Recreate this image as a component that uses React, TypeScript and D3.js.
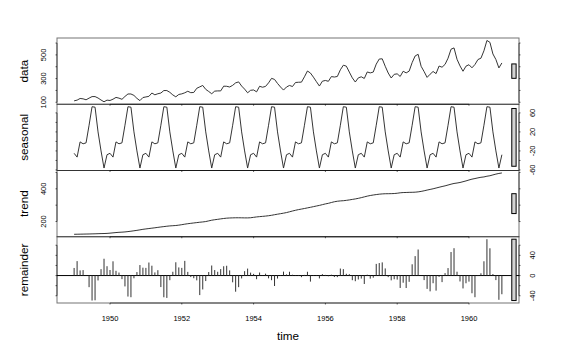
import React from "react";
import * as d3 from "d3";

// AirPassengers (monthly, 1949-1960)
const passengers = [
  112, 118, 132, 129, 121, 135, 148, 148, 136, 119, 104, 118,
  115, 126, 141, 135, 125, 149, 170, 170, 158, 133, 114, 140,
  145, 150, 178, 163, 172, 178, 199, 199, 184, 162, 146, 166,
  171, 180, 193, 181, 183, 218, 230, 242, 209, 191, 172, 194,
  196, 196, 236, 235, 229, 243, 264, 272, 237, 211, 180, 201,
  204, 188, 235, 227, 234, 264, 302, 293, 259, 229, 203, 229,
  242, 233, 267, 269, 270, 315, 364, 347, 312, 274, 237, 278,
  284, 277, 317, 313, 318, 374, 413, 405, 355, 306, 271, 306,
  315, 301, 356, 348, 355, 422, 465, 467, 404, 347, 305, 336,
  340, 318, 362, 348, 363, 435, 491, 505, 404, 359, 310, 337,
  360, 342, 406, 396, 420, 472, 548, 559, 463, 407, 362, 405,
  417, 391, 419, 461, 472, 535, 622, 606, 508, 461, 390, 432,
];

const seasonal = [
  -25, -33, -1, -5, -3, 34, 73, 72, 20, -20, -56, -28,
  -25, -33, -1, -5, -3, 34, 73, 72, 20, -20, -56, -28,
  -25, -33, -1, -5, -3, 34, 73, 72, 20, -20, -56, -28,
  -25, -33, -1, -5, -3, 34, 73, 72, 20, -20, -56, -28,
  -25, -33, -1, -5, -3, 34, 73, 72, 20, -20, -56, -28,
  -25, -33, -1, -5, -3, 34, 73, 72, 20, -20, -56, -28,
  -25, -33, -1, -5, -3, 34, 73, 72, 20, -20, -56, -28,
  -25, -33, -1, -5, -3, 34, 73, 72, 20, -20, -56, -28,
  -25, -33, -1, -5, -3, 34, 73, 72, 20, -20, -56, -28,
  -25, -33, -1, -5, -3, 34, 73, 72, 20, -20, -56, -28,
  -25, -33, -1, -5, -3, 34, 73, 72, 20, -20, -56, -28,
  -25, -33, -1, -5, -3, 34, 73, 72, 20, -20, -56, -28,
];

const trend = [
  122.0, 122.4, 122.8, 123.2, 123.6, 124.0, 124.5, 125.0, 125.7, 126.3, 126.7, 127.5,
  129.0, 130.8, 132.6, 134.1, 135.1, 136.5, 138.6, 140.9, 143.4, 146.1, 149.2, 152.4,
  154.8, 157.2, 159.5, 161.8, 164.4, 166.8, 169.0, 171.3, 173.2, 174.5, 175.7, 177.9,
  180.8, 183.9, 186.7, 189.0, 191.3, 193.5, 195.7, 197.5, 199.9, 204.0, 208.1, 211.1,
  213.5, 216.2, 218.6, 220.6, 221.8, 222.4, 223.0, 223.0, 222.7, 222.3, 222.2, 223.2,
  225.7, 228.2, 230.0, 231.6, 233.3, 235.5, 238.2, 241.7, 244.9, 248.0, 251.2, 254.8,
  259.5, 264.4, 268.8, 272.9, 276.2, 279.7, 283.5, 287.0, 291.0, 294.9, 298.7, 303.2,
  307.7, 311.4, 316.3, 320.9, 324.1, 326.1, 327.3, 329.5, 332.2, 335.2, 338.2, 341.8,
  346.0, 350.7, 355.3, 359.1, 362.2, 364.9, 367.2, 368.9, 369.9, 370.1, 370.5, 371.3,
  373.0, 375.6, 377.2, 377.7, 378.4, 378.7, 379.5, 381.4, 384.2, 388.0, 392.4, 396.3,
  400.2, 404.9, 409.6, 414.0, 418.2, 423.2, 428.4, 432.8, 435.4, 438.7, 443.5, 448.3,
  454.0, 459.1, 462.9, 467.0, 470.5, 472.7, 477.0, 480.0, 485.0, 490.0, 494.0, 497.0,
];

const remainder = [
  15.0, 28.6, 10.2, 10.8, 0.4, -23.0, -49.5, -49.0, -9.7, 12.7, 33.3, 18.5,
  11.0, 28.2, 9.4, 5.9, -7.1, -21.5, -41.6, -42.9, -5.4, 6.9, 20.8, 15.6,
  15.2, 25.8, 19.5, 6.2, 10.6, -22.8, -43.0, -44.3, -9.2, 7.5, 26.3, 16.1,
  15.2, 29.1, 7.3, -3.0, -5.3, -9.5, -38.7, -27.5, -10.9, 7.0, 19.9, 10.9,
  7.5, 12.8, 18.4, 19.4, 10.2, -13.4, -32.0, -23.0, -5.7, 8.7, 13.8, 5.8,
  3.3, -7.2, 6.0, 0.4, 3.7, -5.5, -9.2, -20.7, -5.9, 1.0, 7.8, 2.2,
  7.5, 1.6, -0.8, 1.1, -3.2, 1.3, 7.5, -12.0, 1.0, -0.9, -5.7, 2.8,
  1.3, -1.4, 1.7, -2.9, -3.1, 13.9, 12.7, 3.5, 2.8, -9.2, -11.2, -7.8,
  -6.0, -16.7, 1.7, -6.1, -4.2, 23.1, 24.8, 26.1, 14.1, -3.1, -9.5, -7.3,
  -8.0, -24.6, -14.2, -24.7, -12.4, 22.3, 38.5, 51.6, -0.2, -9.0, -26.4, -31.3,
  -15.2, -29.9, -2.6, -13.0, 4.8, 14.8, 46.6, 54.2, 7.6, -11.7, -25.5, -15.3,
  -12.0, -35.1, -42.9, -1.0, 4.5, 28.3, 72.0, 54.0, 3.0, -9.0, -48.0, -37.0,
];

const startYear = 1949;
const frequency = 12;
const panelLabels = ["data", "seasonal", "trend", "remainder"];
const xTickYears = [1950, 1952, 1954, 1956, 1958, 1960];
const yTicksByPanel = [
  [100, 200, 300, 400, 500, 600],
  [-60, -40, -20, 0, 20, 40, 60],
  [200, 300, 400, 500],
  [-40, -20, 0, 20, 40, 60],
];
const yLabelsByPanel = [
  [100, 300, 500],
  [-60, -20, 20, 60],
  [200, 400],
  [-40, 0, 40],
];
const xAxisTitle = "time";

const W = 576;
const H = 360;
const LEFT = 57;
const RIGHT = 519;
const TOP = 38;
const BOTTOM = 303;
const FONT = "'Liberation Sans', Arial, Helvetica, sans-serif";

export default function App() {
  const series = [passengers, seasonal, trend, remainder];
  const times = passengers.map((_, i) => startYear + i / frequency);
  const [t0, t1] = d3.extent(times) as [number, number];
  const padX = 0.04 * (t1 - t0);
  const x = d3.scaleLinear().domain([t0 - padX, t1 + padX]).range([LEFT, RIGHT]);
  const ranges = series.map((s) => d3.extent(s) as [number, number]);
  const mx = d3.min(ranges, (r) => r[1] - r[0]) as number;
  const panelH = (BOTTOM - TOP) / series.length;
  const dx = (x.domain()[1] - x.domain()[0]) / 64;
  const ux2 = x.domain()[1];

  const panels = series.map((s, i) => {
    const y0 = TOP + i * panelH;
    const y1 = y0 + panelH;
    const [lo, hi] = ranges[i];
    const pad = 0.04 * (hi - lo);
    const y = d3.scaleLinear().domain([lo - pad, hi + pad]).range([y1, y0]);
    const rightSide = i % 2 === 1;
    const isLast = i === series.length - 1;
    const line = d3
      .line<number>()
      .x((_, k) => x(times[k]))
      .y((v) => y(v));
    const mid = (lo + hi) / 2;
    const ticks = yTicksByPanel[i];
    const labels = yLabelsByPanel[i];
    return (
      <g key={i}>
        {isLast ? (
          <g>
            <line x1={LEFT} x2={RIGHT} y1={y(0)} y2={y(0)} stroke="#000" strokeWidth={1} />
            {s.map((v, k) => (
              <line
                key={k}
                x1={x(times[k])}
                x2={x(times[k])}
                y1={y(0)}
                y2={y(v)}
                stroke="#333"
                strokeWidth={1}
              />
            ))}
          </g>
        ) : (
          <path d={line(s) as string} fill="none" stroke="#2a2a2a" strokeWidth={0.95} />
        )}
        {/* range bar */}
        <rect
          x={x(ux2 - dx)}
          width={x(ux2 - 0.4 * dx) - x(ux2 - dx)}
          y={y(mid + mx / 2)}
          height={y(mid - mx / 2) - y(mid + mx / 2)}
          fill="#d3d3d3"
          stroke="#000"
          strokeWidth={1}
        />
        {/* box */}
        <rect x={LEFT} y={y0} width={RIGHT - LEFT} height={panelH} fill="none" stroke="#000" strokeOpacity={0.55} strokeWidth={1} />
        {/* left & right axis lines */}
        {[LEFT, RIGHT].map((ax, j) => (
          <g key={j}>
            <line
              x1={ax}
              x2={ax}
              y1={y(ticks[0])}
              y2={y(ticks[ticks.length - 1])}
              stroke="#000"
              strokeOpacity={0.55}
              strokeWidth={1}
            />
            {ticks.map((tv) => (
              <line
                key={tv}
                x1={ax}
                x2={j === 0 ? ax - 1.5 : ax + 1.5}
                y1={y(tv)}
                y2={y(tv)}
                stroke="#000"
                strokeOpacity={0.6}
                strokeWidth={1}
              />
            ))}
          </g>
        ))}
        {/* bottom axis line */}
        <line
          x1={x(xTickYears[0])}
          x2={x(xTickYears[xTickYears.length - 1])}
          y1={y1}
          y2={y1}
          stroke="#000"
          strokeOpacity={0.55}
          strokeWidth={1}
        />
        {xTickYears.map((tv) => (
          <line key={tv} x1={x(tv)} x2={x(tv)} y1={y1} y2={y1 + 1.5} stroke="#000" strokeOpacity={0.6} strokeWidth={1} />
        ))}
        {/* y tick labels */}
        {labels.map((lv) => {
          const tx = rightSide ? 535 : 46;
          return (
            <text
              key={lv}
              transform={`translate(${tx},${y(lv)}) rotate(-90)`}
              textAnchor="middle"
              fontSize={7.5}
              fontFamily={FONT}
              fill="#000"
            >
              {lv}
            </text>
          );
        })}
        {/* panel label */}
        <text
          transform={`translate(28,${(y0 + y1) / 2}) rotate(-90)`}
          textAnchor="middle"
          fontSize={11.7}
          fontFamily={FONT}
          fill="#000"
        >
          {panelLabels[i]}
        </text>
        {isLast &&
          xTickYears.map((tv) => (
            <text key={tv} x={x(tv)} y={321} textAnchor="middle" fontSize={7.5} fontFamily={FONT} fill="#000">
              {tv}
            </text>
          ))}
      </g>
    );
  });

  return (
    <svg
      width={W}
      height={H}
      viewBox={`0 0 ${W} ${H}`}
      style={{ position: "absolute", left: 0, top: 0, background: "#fff" }}
    >
      <rect x={0} y={0} width={W} height={H} fill="#fff" />
      {panels}
      <text x={(LEFT + RIGHT) / 2} y={339.5} textAnchor="middle" fontSize={11.7} fontFamily={FONT} fill="#000">
        {xAxisTitle}
      </text>
    </svg>
  );
}
